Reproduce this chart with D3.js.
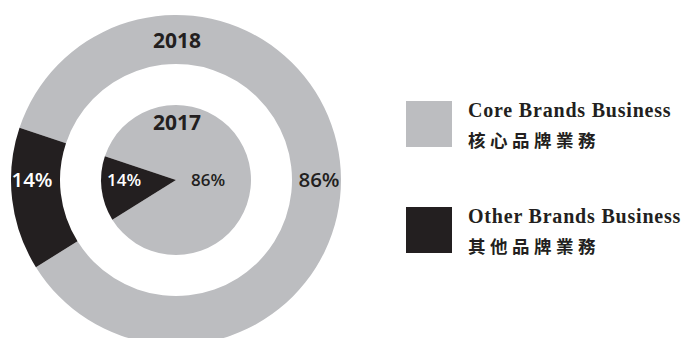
<!DOCTYPE html>
<html>
<head>
<meta charset="utf-8">
<style>
    body { margin: 0; background: white; }
    svg { display: block; }
    .pct { font-family: 'Open Sans', sans-serif; font-weight: 600; }
    .year { font-family: 'Open Sans', sans-serif; font-weight: 700; }
    .leg-en { font-family: 'Liberation Serif', 'Times New Roman', serif; font-weight: 700; }
    .leg-zh { font-family: 'Noto Sans CJK TC', sans-serif; font-weight: 700; }
</style>
</head>
<body>
<svg id="chart" width="687" height="338"></svg>
<script src="https://d3js.org/d3.v7.min.js"></script>
<script>
// data
const categories = ["Core Brands Business", "Other Brands Business"]
const categoriesZh = ["核心品牌業務", "其他品牌業務"]
const colors = ["#bcbdc0", "#231f20"]
const values2018 = [86, 14]
const values2017 = [86, 14]

let svg = d3.select("#chart")
let cx = 176, cy = 180

// core slice starts a bit above the left horizontal
let pie = d3.pie()
    .sort(null)
    .value(d => d)
    .startAngle(288.5 * Math.PI / 180)
    .endAngle(288.5 * Math.PI / 180 + 2 * Math.PI)

let g = svg.append("g").attr("transform", `translate(${cx},${cy})`)

// outer ring 2018
let outerArc = d3.arc().innerRadius(116).outerRadius(165)
g.selectAll(".outer")
    .data(pie(values2018))
    .join("path")
    .attr("class", "outer")
    .attr("d", outerArc)
    .style("fill", (d, i) => colors[i])

// inner pie 2017
let innerArc = d3.arc().innerRadius(0).outerRadius(75)
g.selectAll(".inner")
    .data(pie(values2017))
    .join("path")
    .attr("class", "inner")
    .attr("d", innerArc)
    .style("fill", (d, i) => colors[i])

// labels
g.append("text").attr("class", "year")
    .attr("x", 1).attr("y", -132)
    .attr("text-anchor", "middle")
    .style("font-size", "21px").style("fill", "#231f20")
    .text("2018")

g.append("text").attr("class", "year")
    .attr("x", 1).attr("y", -50)
    .attr("text-anchor", "middle")
    .style("font-size", "21px").style("fill", "#231f20")
    .text("2017")

g.append("text").attr("class", "pct")
    .attr("x", -144).attr("y", 7)
    .attr("text-anchor", "middle")
    .style("font-size", "20.5px").style("fill", "white")
    .text(values2018[1] + "%")

g.append("text").attr("class", "pct")
    .attr("x", 143).attr("y", 7)
    .attr("text-anchor", "middle")
    .style("font-size", "20.5px").style("fill", "#231f20")
    .text(values2018[0] + "%")

g.append("text").attr("class", "pct")
    .attr("x", -52).attr("y", 6)
    .attr("text-anchor", "middle")
    .style("font-size", "17px").style("fill", "white")
    .text(values2017[1] + "%")

g.append("text").attr("class", "pct")
    .attr("x", 32).attr("y", 6)
    .attr("text-anchor", "middle")
    .style("font-size", "17px").style("fill", "#231f20")
    .text(values2017[0] + "%")

// legend
let legend = svg.append("g").attr("transform", "translate(406,101)")
let item = legend.selectAll(".item")
    .data(categories)
    .join("g")
    .attr("class", "item")
    .attr("transform", (d, i) => `translate(0,${i * 106})`)

item.append("rect")
    .attr("width", 46).attr("height", 46)
    .style("fill", (d, i) => colors[i])

item.append("text").attr("class", "leg-en")
    .attr("x", 62).attr("y", 16)
    .style("font-size", "20px").style("letter-spacing", "0.8px").style("fill", "#231f20")
    .text(d => d)

item.append("text").attr("class", "leg-zh")
    .attr("x", 62).attr("y", 46)
    .style("font-size", "17.5px").style("letter-spacing", "4.5px").style("fill", "#231f20")
    .text((d, i) => categoriesZh[i])
</script>
</body>
</html>
